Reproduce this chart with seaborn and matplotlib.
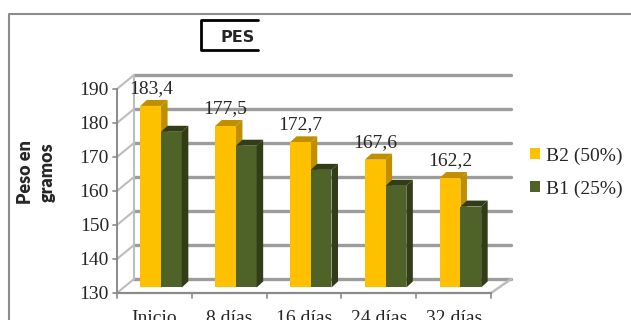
import matplotlib
matplotlib.use("Agg")
import matplotlib.pyplot as plt
import matplotlib.transforms as mtransforms
from matplotlib.lines import Line2D
from matplotlib.patches import Polygon
import pandas as pd
import seaborn as sns

categorias = ["Inicio", "8 días", "16 días", "24 días", "32 días"]
series = ["B2 (50%)", "B1 (25%)"]
b2 = [183.4, 177.5, 172.7, 167.6, 162.2]
b1 = [175.8, 171.7, 164.6, 159.9, 153.8]
yticks = [130, 140, 150, 160, 170, 180, 190]

colores = {"B2 (50%)": "#FFC000", "B1 (25%)": "#4F6228"}
oscuros = {"B2 (50%)": "#BF8F00", "B1 (25%)": "#313D17"}

# fake 3D offsets, in data units (x: per category, y: grams)
FRONT = (-0.09, -1.62)
BACK = (0.138, 2.5)
DEPTH = (0.087, 1.76)
GRID = "#9c9c9c"


def main():
    sns.set_style("white")
    plt.rcParams["font.family"] = ["Liberation Serif", "DejaVu Serif"]

    df = pd.DataFrame({
        "dia": categorias * 2,
        "peso": b2 + b1,
        "serie": [series[0]] * len(b2) + [series[1]] * len(b1),
    })

    fig = plt.figure(figsize=(6.31, 3.2), dpi=100)
    ax = fig.add_axes([0.196, 0.1016, 0.593, 0.6375])

    sns.barplot(data=df, x="dia", y="peso", hue="serie", palette=colores,
                width=0.554, gap=0, saturation=1, linewidth=0, ax=ax, zorder=3)
    ax.set_xlim(-0.5, 4.5)
    ax.set_ylim(130, 190)

    # back wall gridlines and walls
    x0, x1 = -0.5, 4.5
    for y in yticks:
        ax.plot([x0 + BACK[0], x1 + BACK[0] + 0.04], [y + BACK[1]] * 2,
                color=GRID, lw=2.4, clip_on=False, zorder=0.5)
        ax.plot([x0 + FRONT[0], x0 + BACK[0]], [y + FRONT[1], y + BACK[1]],
                color="#bdbdbd", lw=1.5, clip_on=False, zorder=0.5)
        ax.plot([x0 + FRONT[0] - 0.05, x0 + FRONT[0]], [y + FRONT[1]] * 2,
                color="#8a8a8a", lw=1.2, clip_on=False, zorder=0.6)
    ax.plot([x0 + BACK[0]] * 2, [130 + BACK[1], 190 + BACK[1]],
            color="#bdbdbd", lw=1.5, clip_on=False, zorder=0.5)
    ax.plot([x0 + FRONT[0]] * 2, [130 + FRONT[1], 190 + FRONT[1]],
            color="#8a8a8a", lw=1.4, clip_on=False, zorder=0.6)
    ax.plot([x0 + FRONT[0], x1 + FRONT[0]], [130 + FRONT[1]] * 2,
            color="#8a8a8a", lw=1.6, clip_on=False, zorder=0.6)
    ax.plot([x1 + FRONT[0], x1 + BACK[0] + 0.04], [130 + FRONT[1], 130 + BACK[1]],
            color="#bdbdbd", lw=1.8, clip_on=False, zorder=0.5)
    for k in range(len(categorias) + 1):
        xk = x0 + k + FRONT[0]
        ax.plot([xk, xk], [130 + FRONT[1], 130 + FRONT[1] - 1.5],
                color="#8a8a8a", lw=1.2, clip_on=False, zorder=0.6)

    # side and top faces of the bars
    for i, cont in enumerate(ax.containers):
        dark = oscuros[series[i]]
        z = 2 if i == 0 else 3.5
        for bar in cont:
            bx0 = bar.get_x()
            bx1 = bx0 + bar.get_width()
            top = bar.get_height()
            side = [(bx1, 130), (bx1 + DEPTH[0], 130 + DEPTH[1]),
                    (bx1 + DEPTH[0], top + DEPTH[1]), (bx1, top)]
            cap = [(bx0, top), (bx0 + DEPTH[0], top + DEPTH[1]),
                   (bx1 + DEPTH[0], top + DEPTH[1]), (bx1, top)]
            for pts in (side, cap):
                ax.add_patch(Polygon(pts, closed=True, facecolor=dark,
                                     edgecolor="none", clip_on=False, zorder=z))
        for bar in cont:
            bar.set_zorder(3)

    etiquetas = [f"{v:.1f}".replace(".", ",") for v in b2]
    ax.bar_label(ax.containers[0], labels=etiquetas, padding=6.5, fontsize=14)

    ax.set_yticks(yticks)
    ax.tick_params(axis="y", length=0, pad=10.5, labelsize=14)
    ax.tick_params(axis="x", length=0, pad=16.5, labelsize=14)
    dy = mtransforms.ScaledTranslation(0, -0.055, fig.dpi_scale_trans)
    for lab in ax.get_yticklabels():
        lab.set_transform(lab.get_transform() + dy)
    dx = mtransforms.ScaledTranslation(-0.067, 0, fig.dpi_scale_trans)
    for lab in ax.get_xticklabels():
        lab.set_transform(lab.get_transform() + dx)

    ax.set_xlabel("")
    ax.set_ylabel("Peso en\ngramos", fontsize=13, fontweight="heavy",
                  family=["Lato", "DejaVu Sans"], linespacing=1.3)
    ax.yaxis.set_label_coords(-0.233, 0.564)
    ax.yaxis.label.set_verticalalignment("center")
    for s in ax.spines.values():
        s.set_visible(False)
    ax.grid(False)

    sns.move_legend(ax, "upper left", bbox_to_anchor=(530 / 631, 0.54),
                    bbox_transform=fig.transFigure, frameon=False, title=None,
                    fontsize=14, handlelength=0.5, handleheight=0.5,
                    handletextpad=0.3, labelspacing=0.82, borderpad=0,
                    borderaxespad=0)

    # truncated title box and outer chart border
    fig.text(221 / 631, 1 - 37.5 / 320, "PES", ha="left", va="center",
             fontsize=11.5, fontweight="bold", family=["DejaVu Sans"])
    fig.add_artist(Line2D([258 / 631, 201 / 631, 201 / 631, 258 / 631],
                          [1 - 20 / 320, 1 - 20 / 320, 1 - 50 / 320, 1 - 50 / 320],
                          color="black", lw=2, transform=fig.transFigure))
    fig.add_artist(Line2D([9 / 631, 9 / 631, 1.0], [0.0, 1 - 13.5 / 320, 1 - 13.5 / 320],
                          color="#8c8c8c", lw=1.5, transform=fig.transFigure))

    fig.savefig("out.png", dpi=100)
    plt.close(fig)


if __name__ == "__main__":
    main()
